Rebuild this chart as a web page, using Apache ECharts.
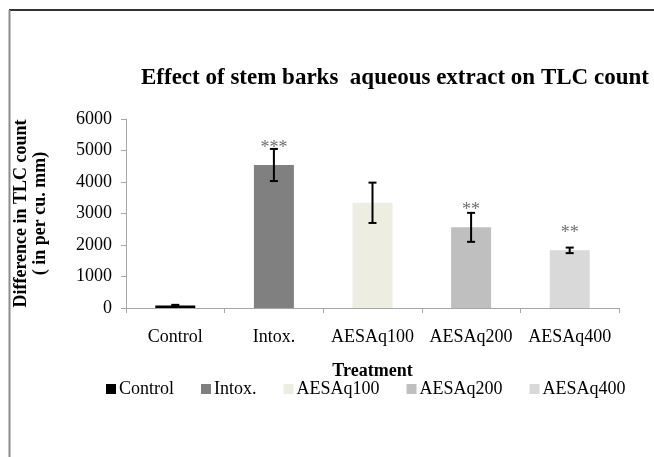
<!DOCTYPE html>
<html>
<head>
<meta charset="utf-8">
<script src="https://cdn.jsdelivr.net/npm/echarts@6/dist/echarts.min.js"></script>
<style>
html,body{margin:0;padding:0;background:#fff;}
#c{width:654px;height:457px;}
</style>
</head>
<body>
<div id="c"></div>
<script>
var categories = ['Control', 'Intox.', 'AESAq100', 'AESAq200', 'AESAq400'];
var means = [80, 4540, 3340, 2560, 1830];
var errors = [20, 510, 640, 460, 88];
var marks = ['', '***', '', '**', '**'];
var colors = ['#000000', '#808080', '#EEEDE1', '#BFBFBF', '#D9D9D9'];
var yTicks = [0, 1000, 2000, 3000, 4000, 5000, 6000];

var FONT = '"Liberation Serif", "Times New Roman", serif';

var barSeries = categories.map(function (name, i) {
  return {
    name: name,
    type: 'bar',
    stack: 'all',
    barWidth: 40,
    itemStyle: { color: colors[i] },
    label: {
      show: marks[i] !== '',
      position: 'top',
      distance: 8,
      formatter: function () { return marks[i]; },
      color: '#707070',
      fontFamily: FONT,
      fontSize: 18
    },
    data: categories.map(function (c, j) { return j === i ? means[i] : null; })
  };
});

var errData = categories.map(function (c, i) {
  return [i, means[i] - errors[i], means[i] + errors[i]];
});

var errSeries = {
  type: 'custom',
  name: 'err',
  z: 10,
  silent: true,
  encode: { x: 0, y: [1, 2] },
  data: errData,
  renderItem: function (params, api) {
    var x = api.value(0);
    var lo = api.coord([x, api.value(1)]);
    var hi = api.coord([x, api.value(2)]);
    var w = 4;
    var st = { stroke: '#000', lineWidth: 2 };
    return {
      type: 'group',
      children: [
        { type: 'line', shape: { x1: hi[0], y1: hi[1], x2: lo[0], y2: lo[1] }, style: st },
        { type: 'line', shape: { x1: hi[0] - w, y1: hi[1], x2: hi[0] + w, y2: hi[1] }, style: st },
        { type: 'line', shape: { x1: lo[0] - w, y1: lo[1], x2: lo[0] + w, y2: lo[1] }, style: st }
      ]
    };
  }
};

var chart = echarts.init(document.getElementById('c'), null, { renderer: 'canvas' });
chart.setOption({
  animation: false,
  backgroundColor: '#ffffff',
  textStyle: { fontFamily: FONT },
  title: {
    text: 'Effect of stem barks  aqueous extract on TLC count',
    left: 136,
    top: 62,
    textStyle: { fontFamily: FONT, fontWeight: 'bold', fontSize: 23, color: '#000' }
  },
  legend: {
    data: categories,
    left: 101,
    top: 375,
    icon: 'rect',
    itemWidth: 10,
    itemHeight: 10,
    itemGap: 27,
    textStyle: { fontFamily: FONT, fontSize: 18, color: '#000', padding: [0, 0, 0, -2] }
  },
  grid: { left: 126, right: 35, top: 119, bottom: 149 },
  xAxis: {
    type: 'category',
    data: categories,
    name: 'Treatment',
    nameLocation: 'middle',
    nameGap: 54,
    nameTextStyle: { fontFamily: FONT, fontWeight: 'bold', fontSize: 18, color: '#000' },
    axisLine: { lineStyle: { color: '#A6A6A6', width: 1 } },
    axisTick: { show: true, length: 5, lineStyle: { color: '#A6A6A6' } },
    axisLabel: { interval: 0, fontFamily: FONT, fontSize: 18, color: '#000', margin: 20 }
  },
  yAxis: {
    type: 'value',
    min: yTicks[0],
    max: yTicks[yTicks.length - 1],
    interval: 1000,
    name: 'Difference in TLC count\n( in per cu. mm)',
    nameLocation: 'middle',
    nameGap: 76,
    nameTextStyle: { fontFamily: FONT, fontWeight: 'bold', fontSize: 18, color: '#000', lineHeight: 19 },
    axisLine: { show: true, lineStyle: { color: '#A6A6A6', width: 1 } },
    axisTick: { show: true, length: 5, lineStyle: { color: '#A6A6A6' } },
    splitLine: { show: false },
    axisLabel: {
      fontFamily: FONT, fontSize: 18, color: '#000', margin: 14,
      formatter: function (v) { return String(v); }
    }
  },
  graphic: [
    { type: 'line', shape: { x1: 9, y1: 10, x2: 654, y2: 10 }, style: { stroke: '#333', lineWidth: 2 } },
    { type: 'line', shape: { x1: 9.5, y1: 10, x2: 9.5, y2: 457 }, style: { stroke: '#8C8C8C', lineWidth: 2 } }
  ],
  series: barSeries.concat([errSeries])
});
</script>
</body>
</html>
